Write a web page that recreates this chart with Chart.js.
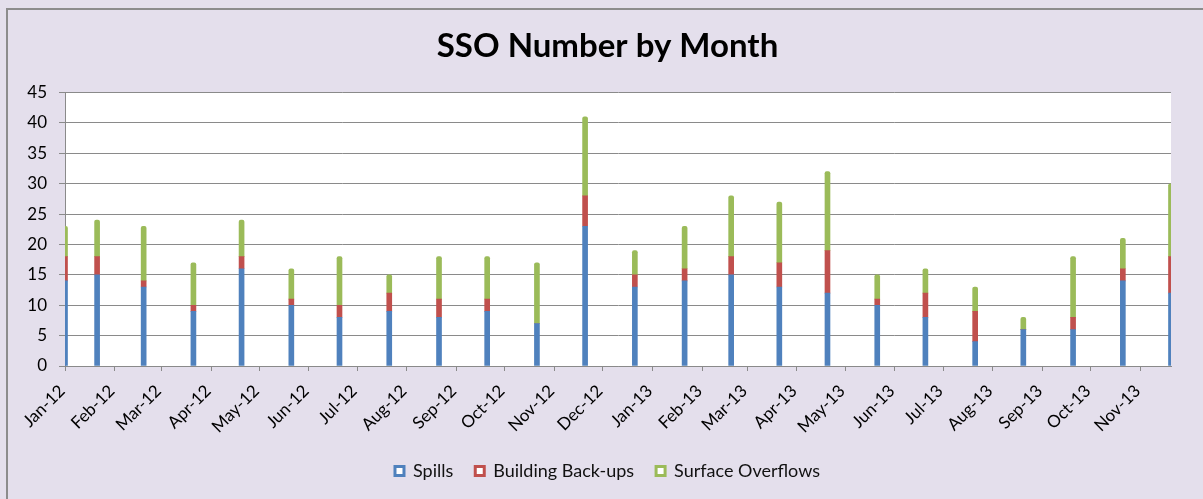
<!DOCTYPE html>
<html>
<head>
<meta charset="utf-8">
<script src="https://cdn.jsdelivr.net/npm/chart.js@4"></script>
<style>
  html, body { margin: 0; padding: 0; background: #e4dfec; overflow: hidden; }
  #frame { position: absolute; left: 6px; top: 8px; width: 1300px; height: 600px; border: 2px solid #8c8c8c; }
  #myChart { position: absolute; left: 0; top: 0; }
</style>
</head>
<body>
<div id="frame"></div>
<canvas id="myChart" width="1203" height="499"></canvas>
<script>
// data
const dates = [
  "2012-01-01", "2012-01-21", "2012-02-19", "2012-03-21", "2012-04-20", "2012-05-21",
  "2012-06-20", "2012-07-21", "2012-08-21", "2012-09-20", "2012-10-21", "2012-11-20",
  "2012-12-21", "2013-01-21", "2013-02-19", "2013-03-21", "2013-04-20", "2013-05-21",
  "2013-06-20", "2013-07-21", "2013-08-20", "2013-09-20", "2013-10-21", "2013-11-20"
];
const spills    = [14, 15, 13, 9, 16, 10, 8, 9, 8, 9, 7, 23, 13, 14, 15, 13, 12, 10, 8, 4, 6, 6, 14, 12];
const backups   = [4, 3, 1, 1, 2, 1, 2, 3, 3, 2, 0, 5, 2, 2, 3, 4, 7, 1, 4, 5, 0, 2, 2, 6];
const overflows = [5, 6, 9, 7, 6, 5, 8, 3, 7, 7, 10, 13, 4, 7, 10, 10, 13, 4, 4, 4, 2, 10, 5, 12];
const tickLabels = [
  "Jan-12", "Feb-12", "Mar-12", "Apr-12", "May-12", "Jun-12", "Jul-12", "Aug-12",
  "Sep-12", "Oct-12", "Nov-12", "Dec-12", "Jan-13", "Feb-13", "Mar-13", "Apr-13",
  "May-13", "Jun-13", "Jul-13", "Aug-13", "Sep-13", "Oct-13", "Nov-13"
];

const MONTHS = ["Jan","Feb","Mar","Apr","May","Jun","Jul","Aug","Sep","Oct","Nov","Dec"];
const dayNum = (s) => Date.parse(s + "T00:00:00Z") / 86400000;
const labelDay = (lbl) => {
  const [m, y] = lbl.split("-");
  return Date.UTC(2000 + Number(y), MONTHS.indexOf(m), 1) / 86400000;
};
const days = dates.map(dayNum);
const tickDays = tickLabels.map(labelDay);

const toPoints = (arr) => arr.map((v, i) => ({ x: days[i], y: v }));

const fontName = "Lato, 'Noto Sans', sans-serif";
const gridGray = "#8a8a8a";

const plotBg = {
  id: "plotBg",
  afterLayout(chart) {
    // let the y labels draw into the left padding (title stays centred like the original)
    chart.scales.y.left = 0;
  },
  beforeDraw(chart) {
    const { ctx, chartArea } = chart;
    ctx.save();
    ctx.fillStyle = "#ffffff";
    ctx.fillRect(chartArea.left, chartArea.top, chartArea.right - chartArea.left, chartArea.bottom - chartArea.top);
    ctx.restore();
  }
};

const barDefaults = { barThickness: 5, borderRadius: 2, clip: 0, borderWidth: 0 };

const data = {
  datasets: [
    { label: "Spills", data: toPoints(spills), backgroundColor: "#4f81bd", ...barDefaults },
    { label: "Building Back-ups", data: toPoints(backups), backgroundColor: "#c0504d", ...barDefaults },
    { label: "Surface Overflows", data: toPoints(overflows), backgroundColor: "#9bbb59", ...barDefaults }
  ]
};

const config = {
  type: "bar",
  data,
  plugins: [plotBg],
  options: {
    responsive: false,
    animation: false,
    devicePixelRatio: 1,
    layout: { padding: { left: 44, right: 32, top: 0, bottom: 9 } },
    plugins: {
      title: {
        display: true,
        text: "SSO Number by Month",
        color: "#000",
        font: { family: fontName, size: 33, weight: "bold" },
        padding: { top: 27, bottom: 26 }
      },
      legend: {
        position: "bottom",
        labels: {
          color: "#111",
          font: { family: fontName, size: 18 },
          boxWidth: 9,
          boxHeight: 9,
          padding: 22,
          generateLabels(chart) {
            return chart.data.datasets.map((ds, i) => ({
              text: ds.label,
              fillStyle: "#ffffff",
              strokeStyle: ds.backgroundColor,
              lineWidth: 3,
              hidden: false,
              datasetIndex: i,
              fontColor: "#111"
            }));
          }
        }
      },
      tooltip: { enabled: false }
    },
    scales: {
      x: {
        type: "linear",
        stacked: true,
        offset: false,
        min: Math.min(...days),
        max: Math.max(...days),
        afterBuildTicks(scale) {
          scale.ticks = tickDays.map((v) => ({ value: v }));
        },
        afterFit(scale) {
          scale.height = 74;
          scale.paddingLeft = 0;
          scale.paddingRight = 0;
        },
        grid: { offset: false, drawOnChartArea: false, drawTicks: true, tickLength: 5, color: gridGray },
        border: { color: gridGray, width: 1 },
        ticks: {
          autoSkip: false,
          maxRotation: 45,
          minRotation: 45,
          padding: 10,
          labelOffset: -3,
          color: "#000",
          font: { family: fontName, size: 17 },
          callback(value) {
            const i = tickDays.indexOf(value);
            return i >= 0 ? tickLabels[i] : "";
          }
        }
      },
      y: {
        stacked: true,
        min: 0,
        max: 45,
        afterFit(scale) {
          scale.width = 21;
        },
        grid: { color: gridGray, tickLength: 6, drawTicks: true },
        border: { color: gridGray, width: 1 },
        ticks: {
          stepSize: 5,
          padding: 12,
          color: "#000",
          font: { family: fontName, size: 17 }
        }
      }
    }
  }
};

const myChart = new Chart(document.getElementById("myChart"), config);
</script>
</body>
</html>
